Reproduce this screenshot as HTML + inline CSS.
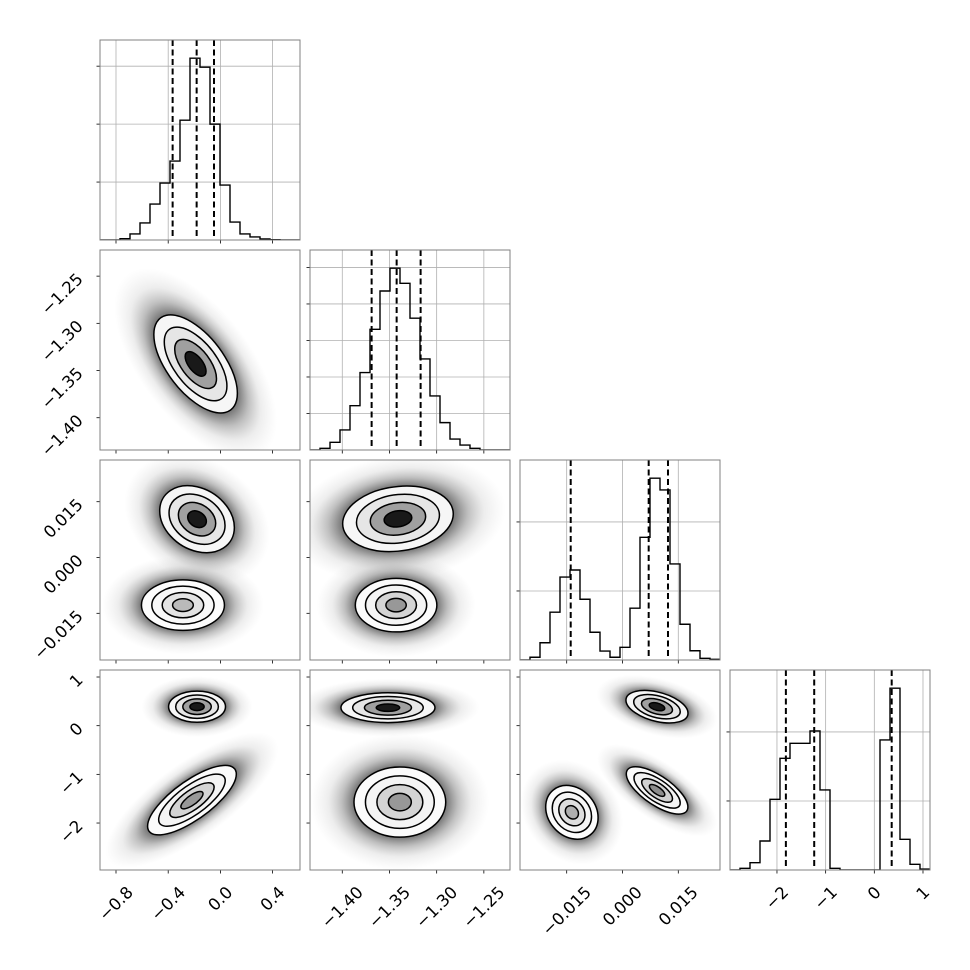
<!DOCTYPE html>
<html><head><meta charset="utf-8"><style>
html,body{margin:0;padding:0;background:#fff;}
svg{display:block;font-family:"DejaVu Sans","Liberation Sans",sans-serif;}
</style></head><body>
<svg id="fig" width="970" height="970" viewBox="0 0 970 970" xmlns="http://www.w3.org/2000/svg">
<defs>
<radialGradient id="halo" cx="0.5" cy="0.5" r="0.5">
<stop offset="0" stop-color="#404040" stop-opacity="0.75"/>
<stop offset="0.52" stop-color="#404040" stop-opacity="0.7"/>
<stop offset="0.65" stop-color="#606060" stop-opacity="0.4"/>
<stop offset="0.8" stop-color="#888" stop-opacity="0.15"/>
<stop offset="1" stop-color="#aaa" stop-opacity="0"/>
</radialGradient>
</defs>
</svg>
<script>
// parameter ranges & ticks
const paramLo = [-0.9226, -1.4342, -0.02755, -2.965];
const paramHi = [0.610, -1.2223, 0.02621, 1.144];
const tickVals = [[-0.8,-0.4,0.0,0.4],[-1.40,-1.35,-1.30,-1.25],[-0.015,0.000,0.015],[-2,-1,0,1]];
const tickLabels = [["−0.8","−0.4","0.0","0.4"],["−1.40","−1.35","−1.30","−1.25"],["−0.015","0.000","0.015"],["−2","−1","0","1"]];
// 1D histograms (20 bins each)
const hist0 = [0,0,11,52,147,310,491,681,1034,1569,1491,1000,474,155,52,26,9,3,0,0];
const hist1 = [0,9,42,110,243,424,661,871,996,913,722,499,296,150,60,27,9,0,0,0];
const hist2 = [0,20,125,346,601,652,440,201,65,20,92,375,889,1317,1232,696,259,67,12,5];
const hist3 = [0,12,53,210,512,809,918,918,1007,580,12,0,0,0,0,942,1317,222,41,7];
const histYTicks = [[500,1000,1500],[200,400,600,800,1000],[500,1000],[500,1000]];
const quantiles = [[-0.366,-0.182,-0.049],[-1.3689,-1.3424,-1.317],[-0.01392,0.00704,0.01223],[-1.817,-1.235,0.357]];
// 2D density blobs
const blobRow = [1,2,2,2,2,3,3,3,3,3,3,3];
const blobCol = [0,0,0,1,1,0,0,1,1,2,2,2];
const blobCx = [-0.19,-0.179,-0.287,-1.341,-1.343,-0.179,-0.218,-1.3516,-1.339,0.00927,0.0093,-0.0136];
const blobCy = [-1.343,0.0103,-0.0128,0.0104,-0.0128,0.39,-1.53,0.37,-1.57,0.39,-1.33,-1.78];
const blobSx = [0.16,0.143,0.159,0.0293,0.0216,0.109,0.17,0.0249,0.0243,0.00417,0.00414,0.00352];
const blobSy = [0.026,0.0045,0.0034,0.0044,0.0036,0.16,0.357,0.153,0.36,0.167,0.243,0.276];
const blobRho = [-0.6,-0.25,0,0.15,0,0,0.75,0,0,-0.4,-0.7,-0.2];
const blobPeak = [1,1,0.3,1,0.45,1,0.45,1,0.45,1,0.5,0.35];

const hists=[hist0,hist1,hist2,hist3];
const NS="http://www.w3.org/2000/svg";
const svg=document.getElementById('fig');
const P0=100, PS=200, GAP=10;
function px0(c){return P0+c*(PS+GAP);}
function py0(r){return 40+r*(PS+GAP);}
function xScale(p,c,v){return px0(c)+(v-paramLo[p])/(paramHi[p]-paramLo[p])*PS;}
function yScale(p,r,v){return py0(r)+PS-(v-paramLo[p])/(paramHi[p]-paramLo[p])*PS;}
function el(tag,attrs,parent){const e=document.createElementNS(NS,tag);for(const k in attrs)e.setAttribute(k,attrs[k]);(parent||svg).appendChild(e);return e;}

const gridCol="#b0b0b0", frameCol="#808080";

for(let r=0;r<4;r++){for(let c=0;c<=r;c++){
  const x0=px0(c), y0=py0(r);
  const g=el('g',{});
  
  
  const cid='clip'+r+c;
  const cp=el('clipPath',{id:cid},g);
  el('rect',{x:x0,y:y0,width:PS,height:PS},cp);
  const inner=el('g',{'clip-path':'url(#'+cid+')'},g);
  if(r===c){
    const h=hists[r]; const ymax=Math.max(...h)*1.1;
    const ys=v=>y0+PS-v/ymax*PS;
    tickVals[c].forEach(v=>{const x=xScale(c,c,v);const l=el('line',{x1:x,x2:x,y1:y0,y2:y0+PS,stroke:gridCol,'stroke-width':0.8},inner);
      });
    histYTicks[r].forEach(v=>{const y=ys(v);const l=el('line',{x1:x0,x2:x0+PS,y1:y,y2:y,stroke:gridCol,'stroke-width':0.8},inner);
      
      const t=el('line',{x1:x0-3.5,x2:x0,y1:y,y2:y,stroke:'#000','stroke-width':0.8},g);
      });
    const n=h.length, bw=(paramHi[r]-paramLo[r])/n;
    let d='M'+xScale(r,c,paramLo[r])+','+ys(0);
    for(let i=0;i<n;i++){const xa=xScale(r,c,paramLo[r]+i*bw), xb=xScale(r,c,paramLo[r]+(i+1)*bw);
      d+=' L'+xa+','+ys(h[i])+' L'+xb+','+ys(h[i]);}
    d+=' L'+xScale(r,c,paramHi[r])+','+ys(0);
    const hp=el('path',{d:d,fill:'none',stroke:'#000','stroke-width':1.4},inner);
    
    quantiles[r].forEach((q,i)=>{const x=xScale(r,c,q);
      const l=el('line',{x1:x,x2:x,y1:y0,y2:y0+PS,stroke:'#000','stroke-width':2,'stroke-dasharray':'6,3.5'},inner);
      });
  } else {
    for(let b=0;b<blobRow.length;b++){ if(blobRow[b]!==r||blobCol[b]!==c) continue;
      const cx=xScale(c,c,blobCx[b]), cy=yScale(r,r,blobCy[b]);
      const sxp=blobSx[b]/(paramHi[c]-paramLo[c])*PS, syp=blobSy[b]/(paramHi[r]-paramLo[r])*PS;
      const rp=-blobRho[b];
      const m='matrix('+sxp+','+(rp*syp)+',0,'+(syp*Math.sqrt(1-rp*rp))+','+cx+','+cy+')';
      const bg=el('g',{transform:m},inner);
      
      el('circle',{cx:0,cy:0,r:3.9,fill:'url(#halo)'},bg);
      const levels=[2,1.5,1,0.5], greys=[246,230,160,25];
      levels.forEach((lv,i)=>{const gv=Math.round(255-(255-greys[i])*blobPeak[b]);
        const ci=el('circle',{cx:0,cy:0,r:lv,fill:'rgb('+gv+','+gv+','+gv+')',stroke:'#000','stroke-width':1.5,'vector-effect':'non-scaling-stroke'},bg);
        });
    }
    tickVals[r].forEach(v=>{const y=yScale(r,r,v);
      const t=el('line',{x1:x0-3.5,x2:x0,y1:y,y2:y,stroke:'#000','stroke-width':0.8},g);
      });
  }
  tickVals[c].forEach(v=>{const x=xScale(c,c,v);
    const t=el('line',{x1:x,x2:x,y1:y0+PS,y2:y0+PS+3.5,stroke:'#000','stroke-width':0.8},g);
    });
  const fr=el('rect',{x:x0,y:y0,width:PS,height:PS,fill:'none',stroke:frameCol,'stroke-width':1},g);
  
}}

const FS=16.5;
for(let c=0;c<4;c++){
  tickVals[c].forEach((v,i)=>{const x=xScale(c,c,v);
    const t=el('text',{'font-size':FS,'text-anchor':'middle','dominant-baseline':'central',fill:'#000'});
    t.textContent=tickLabels[c][i];
    
    
    const len=t.getComputedTextLength();
    const hh=(len+FS*0.75)*0.7071;
    t.setAttribute('transform','translate('+x+','+(885+hh/2)+') rotate(-45)');
  });
}
for(let r=1;r<4;r++){
  tickVals[r].forEach((v,i)=>{const y=yScale(r,r,v);
    const t=el('text',{'font-size':FS,'text-anchor':'end','dominant-baseline':'central',fill:'#000',transform:'translate(80,'+y+') rotate(-45)'});
    t.textContent=tickLabels[r][i];
    
    
  });
}
</script>
</body></html>
